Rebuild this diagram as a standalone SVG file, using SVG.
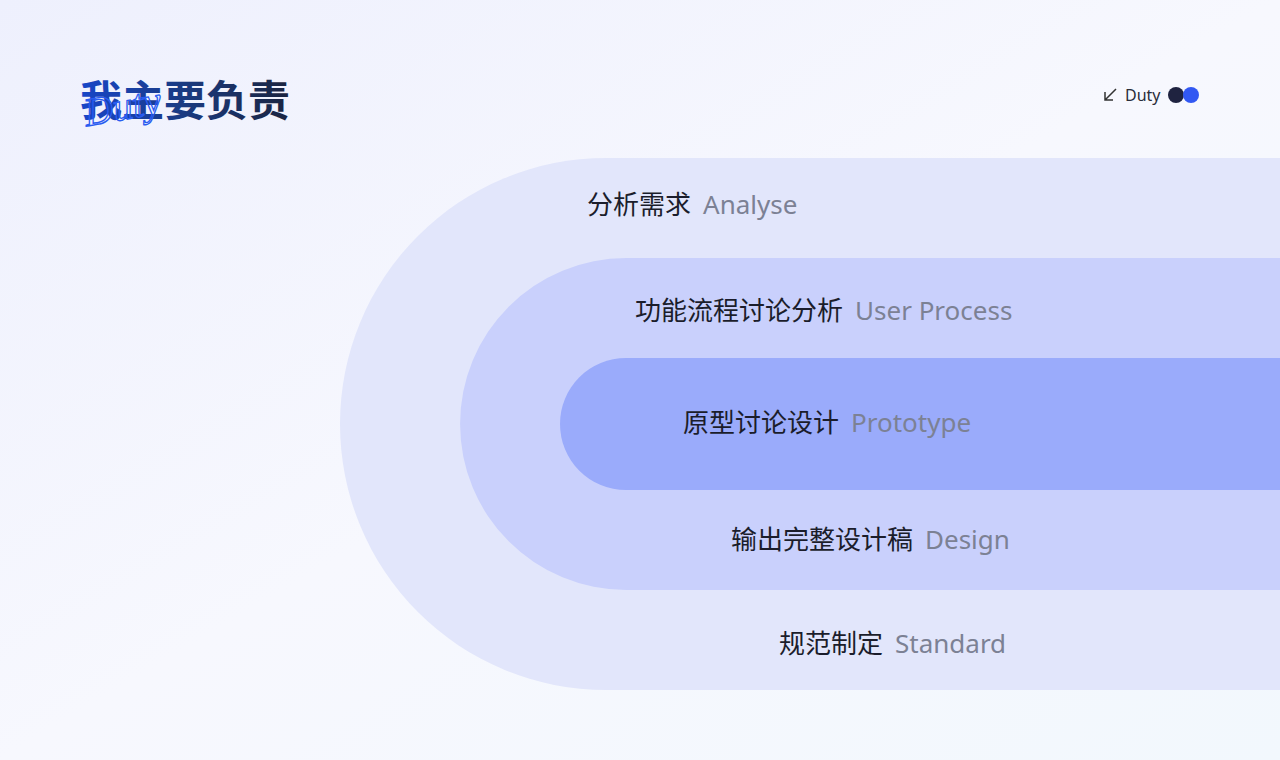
<svg xmlns="http://www.w3.org/2000/svg" width="1280" height="760" viewBox="0 0 1280 760">
<defs>
<linearGradient id="bg" x1="0" y1="0" x2="1" y2="1"><stop offset="0" stop-color="#eef0fd"/><stop offset="0.5" stop-color="#f7f8fe"/><stop offset="1" stop-color="#f2f8fd"/></linearGradient>
<linearGradient id="tg" x1="0" y1="0" x2="1" y2="0"><stop offset="0" stop-color="#1846c8"/><stop offset="0.5" stop-color="#1a3a80"/><stop offset="1" stop-color="#1a2440"/></linearGradient>
<style>
.cn{font-family:"Noto Sans CJK SC","Noto Sans",sans-serif;font-size:26px;fill:#1b1d2b}
.en{font-family:"Noto Sans","Noto Sans CJK SC",sans-serif;font-size:26px;fill:#7c8194}
</style>
</defs>
<rect width="1280" height="760" fill="url(#bg)"/>
<g id="title">
<text x="80" y="116" font-family="Noto Sans CJK SC,sans-serif" font-weight="700" font-size="42" fill="url(#tg)">我主要负责</text>
<text x="84" y="122" font-family="Liberation Serif,serif" font-style="italic" font-size="40" fill="none" stroke="#2a5cf0" stroke-width="1.3" transform="rotate(-10 110 110)">Duty</text>
</g>
<g id="tag">
<path d="M1116 89 L1105 100 M1105 92 L1105 100 L1113 100" stroke="#333" stroke-width="1.5" fill="none"/>
<text x="1125" y="101" font-family="Noto Sans,sans-serif" font-size="16" fill="#2a2d3a">Duty</text>
<circle cx="1176" cy="95" r="8" fill="#1f2340"/>
<circle cx="1191" cy="95" r="8" fill="#3258f2"/>
</g>
<g id="outer"><path d="M606 158 H1280 V690 H606 A266 266 0 0 1 606 158 Z" fill="#e2e6fb"/></g>
<g id="middle"><path d="M626 258 H1280 V590 H626 A166 166 0 0 1 626 258 Z" fill="#c9d0fc"/></g>
<g id="inner"><path d="M626 358 H1280 V490 H626 A66 66 0 0 1 626 358 Z" fill="#9aabfb"/></g>
<g id="labels">
<text x="587" y="214" class="cn">分析需求<tspan class="en" dx="12">Analyse</tspan></text>
<text x="635" y="320" class="cn">功能流程讨论分析<tspan class="en" dx="12">User Process</tspan></text>
<text x="683" y="432" class="cn">原型讨论设计<tspan class="en" dx="12">Prototype</tspan></text>
<text x="731" y="549" class="cn">输出完整设计稿<tspan class="en" dx="12">Design</tspan></text>
<text x="779" y="653" class="cn">规范制定<tspan class="en" dx="12">Standard</tspan></text>
</g>
<g id="connectors"/>
</svg>
